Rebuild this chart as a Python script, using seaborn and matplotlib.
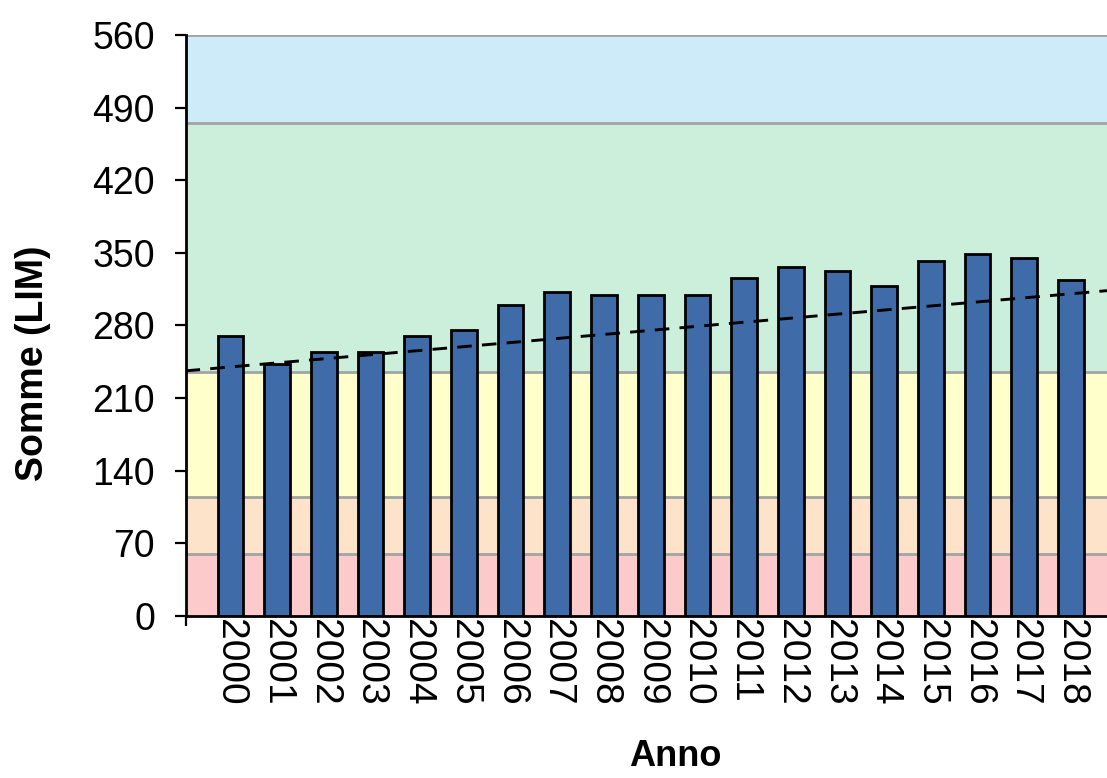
import matplotlib
matplotlib.use("Agg")
import matplotlib.pyplot as plt
import seaborn as sns
import pandas as pd

# values
years = [str(y) for y in range(2000, 2019)]
lim_sum = [270, 243, 254, 254, 270, 276, 300, 312, 309, 309, 309,
           326, 336, 332, 318, 342, 349, 345, 324]

# quality classes (upper limits) and their colours
band_edges = [0, 60, 115, 235, 475, 560]
band_colors = ["#fccaca", "#fde3ca", "#ffffcc", "#ccefdb", "#cdebf8"]

# dashed trend line, value at 2000 and at 2018
trend_values = [240, 310.5]

y_ticks = list(range(0, 561, 70))

sns.set_theme(style="ticks")
plt.rcParams["font.family"] = ["Liberation Sans", "DejaVu Sans"]
plt.rcParams["text.color"] = "black"

df = pd.DataFrame({"Anno": years, "Somme": lim_sum})

fig = plt.figure(figsize=(11.07, 7.78), dpi=100)
ax = fig.add_axes([0.1676, 0.2082, 0.8324, 0.747])

for lo, hi, col in zip(band_edges[:-1], band_edges[1:], band_colors):
    ax.axhspan(lo, hi, color=col, lw=0, zorder=0)
for edge in band_edges[1:]:
    ax.axhline(edge, color="#a3a3a3", lw=2, zorder=0.5)

sns.barplot(data=df, x="Anno", y="Somme", color="#3f6ca8", saturation=1,
            edgecolor="black", linewidth=2.0, width=0.55, ax=ax, zorder=2)

ax.axline((0, trend_values[0]), (len(years) - 1, trend_values[1]),
          color="black", lw=2.1, ls=(0, (5, 3.5)), zorder=3)

ax.set_xlim(-0.96, 18.77)
ax.set_ylim(0, 560)
ax.set_yticks(y_ticks)
ax.set_yticklabels([str(t) for t in y_ticks], fontsize=27)

ax.tick_params(axis="y", direction="out", length=8, width=1.6, pad=14,
               color="black", labelcolor="black")
ax.tick_params(axis="x", which="major", length=0, pad=2, labelsize=28,
               labelrotation=270, labelcolor="black")
for lab in ax.get_xticklabels():
    lab.set_va("top")
    lab.set_ha("center")
ax.set_xticks([-0.96], minor=True)
ax.tick_params(axis="x", which="minor", direction="out", length=7, width=1.6, color="black")

for side in ["top", "right"]:
    ax.spines[side].set_visible(False)
for side in ["left", "bottom"]:
    ax.spines[side].set_color("black")
    ax.spines[side].set_linewidth(2)
    ax.spines[side].set_zorder(4)

ax.set_xlabel("Anno", fontsize=26, fontweight="bold", color="black")
ax.set_ylabel("Somme (LIM)", fontsize=27, fontweight="bold", color="black")
ax.xaxis.set_label_coords(0.532, -0.241)
ax.xaxis.label.set_va("center")
ax.yaxis.set_label_coords(-0.166, 0.435)
ax.yaxis.label.set_va("center")

fig.savefig("out.png", dpi=100)
